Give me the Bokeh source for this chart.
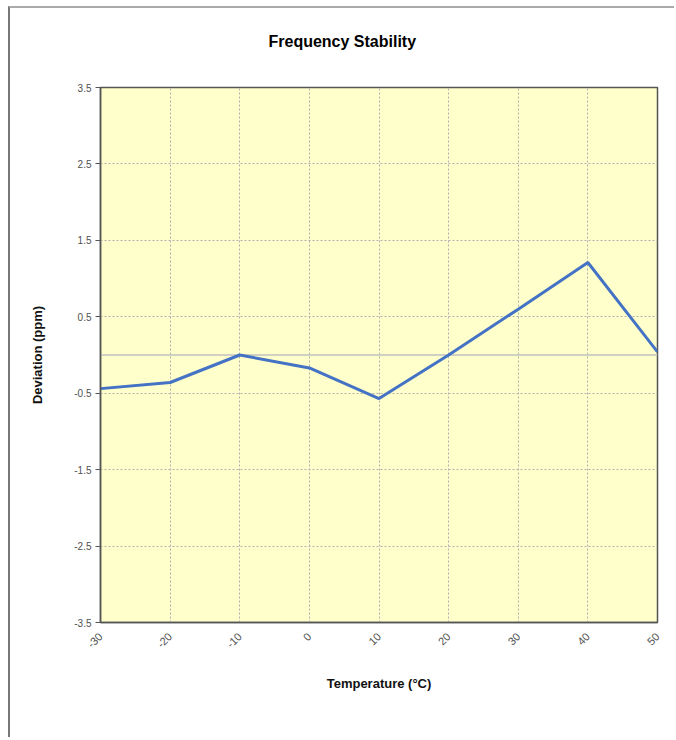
import math
from bokeh.plotting import figure
from bokeh.models import Range1d, FixedTicker, Span, ColumnDataSource, Title
from bokeh.embed import file_html
from bokeh.resources import INLINE

temps = [-30, -20, -10, 0, 10, 20, 30, 40, 50]
deviation = [-0.44, -0.36, 0.0, -0.17, -0.57, 0.0, 0.6, 1.21, 0.04]
y_ticks = [-3.5, -2.5, -1.5, -0.5, 0.5, 1.5, 2.5, 3.5]
x_ticks = [-30, -20, -10, 0, 10, 20, 30, 40, 50]
title_text = "Frequency Stability"

FONT = "Liberation Sans"

p = figure(width=666, height=731, output_backend="svg", toolbar_location=None,
           x_range=Range1d(-30, 50), y_range=Range1d(-3.5, 3.5),
           min_border_left=90, min_border_right=19, min_border_top=79, min_border_bottom=117,
           title_location=None,
           styles={"margin-left": "8px", "margin-top": "6px",
                   "border-left": "2px solid #777777", "border-top": "2px solid #aaaaaa"})

# spacer between frame and title
p.add_layout(Title(text=" ", text_font_size="2px", standoff=34), "above")
p.add_layout(Title(text=title_text, text_font=FONT, text_font_size="16px",
                   text_font_style="bold", text_color="#000000",
                   align="left", offset=168, standoff=0), "above")

p.background_fill_color = "#FFFFCC"
p.border_fill_color = "white"
p.outline_line_color = "#555555"
p.outline_line_width = 1.5

src = ColumnDataSource(dict(x=temps, y=deviation))

p.add_layout(Span(location=0, dimension="width", line_color="#c0c0c0", line_width=1.5, level="underlay"))

p.line("x", "y", source=src, line_color="#4472C4", line_width=3)

for g in (p.xgrid, p.ygrid):
    g.grid_line_color = "#b0b0b0"
    g.grid_line_dash = "2 2"
    g.grid_line_width = 1

p.xaxis.ticker = FixedTicker(ticks=x_ticks)
p.yaxis.ticker = FixedTicker(ticks=y_ticks)
p.xaxis.major_label_overrides = {t: str(t) for t in x_ticks}
p.yaxis.major_label_overrides = {t: str(t) for t in y_ticks}

p.xaxis.axis_label = "Temperature (°C)"
p.yaxis.axis_label = "Deviation (ppm)"
for ax in (p.xaxis, p.yaxis):
    ax.axis_label_text_font = FONT
    ax.axis_label_text_font_size = "13px"
    ax.axis_label_text_font_style = "bold"
    ax.axis_label_text_color = "#111111"
    ax.major_label_text_font = FONT
    ax.major_label_text_font_size = "10px"
    ax.major_label_text_color = "#505050"
    ax.axis_line_color = "#555555"
    ax.axis_line_width = 1.5
    ax.minor_tick_line_color = None

p.xaxis.major_label_orientation = math.pi / 4
p.xaxis.major_label_text_font_size = "11px"
p.xaxis.major_tick_line_color = None
p.xaxis.major_label_standoff = 6
p.xaxis.axis_label_standoff = 22

p.yaxis.major_tick_in = 0
p.yaxis.major_tick_out = 5
p.yaxis.major_tick_line_color = "#555555"
p.yaxis.major_label_standoff = 4
p.yaxis.axis_label_standoff = 26

open("out.html", "w").write(file_html(p, INLINE))
